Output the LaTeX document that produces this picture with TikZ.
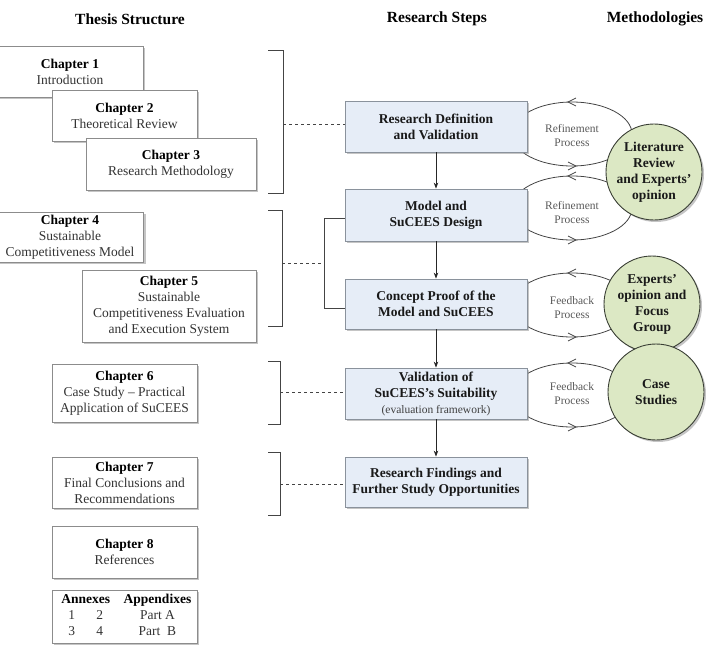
\documentclass[tikz,border=0pt]{standalone}
\usepackage{fontspec}
\setmainfont{Liberation Serif}
\usetikzlibrary{arrows.meta,shadows,calc}
\definecolor{boxborder}{HTML}{8C8C8C}
\definecolor{stepfill}{HTML}{E6EDF7}
\definecolor{stepborder}{HTML}{8A929C}
\definecolor{circfill}{HTML}{DCE8C4}
\definecolor{circborder}{HTML}{3A3F35}
\definecolor{txtgray}{HTML}{333333}
\definecolor{linegray}{HTML}{444444}
\begin{document}
\begin{tikzpicture}[x=1pt,y=-1pt,font=\fontsize{13.5}{16}\selectfont,
  shad/.style={drop shadow={shadow xshift=2pt,shadow yshift=-2pt,fill=black!45,opacity=0.5}},
  chapbox/.style={draw=boxborder,line width=0.8pt,fill=white,align=center,inner sep=0pt,text=txtgray,shad},
  stepbox/.style={draw=stepborder,fill=stepfill,line width=0.8pt,align=center,inner sep=0pt,minimum width=182pt,font=\fontsize{13.5}{16}\selectfont\bfseries,text=black!90,shad},
  method/.style={circle,draw=circborder,line width=0.9pt,fill=circfill,align=center,inner sep=0pt,minimum size=96pt,font=\fontsize{13.5}{16}\selectfont\bfseries,text=black!90,shad},
  loopline/.style={draw=linegray,line width=0.8pt},
  brk/.style={draw=linegray,line width=0.9pt},
  dsh/.style={draw=linegray,line width=0.8pt,dash pattern=on 3pt off 3pt},
  flow/.style={-{Stealth[length=6pt,width=4.5pt]},line width=0.8pt,draw=black!85},
  title/.style={font=\fontsize{15.5}{18}\selectfont\bfseries},
  plabel/.style={font=\fontsize{11.5}{14}\selectfont,text=black!65,align=center},
  chead/.style={}]
\useasboundingbox (0,0) rectangle (706,656);

% titles
\node[title] (t1) at (130,19) {Thesis Structure};
\node[title] (t2) at (437,19) {Research Steps};
\node[title] (t3) at (655,19) {Methodologies};

% chapter boxes
\node[chapbox,minimum width=146pt,minimum height=51pt] (ch1) at (70,71.5) {\textbf{\color{black}Chapter 1}\\Introduction};
\node[chapbox,minimum width=145pt,minimum height=51pt] (ch2) at (124.5,115.5) {\textbf{\color{black}Chapter 2}\\Theoretical Review};
\node[chapbox,minimum width=170pt,minimum height=52pt] (ch3) at (171,164) {\textbf{\color{black}Chapter 3}\\Research Methodology};
\node[chapbox,minimum width=147pt,minimum height=50pt] (ch4) at (70,237) {\textbf{\color{black}Chapter 4}\\Sustainable\\Competitiveness Model};
\node[chapbox,minimum width=174pt,minimum height=72pt] (ch5) at (169,306) {\textbf{\color{black}Chapter 5}\\Sustainable\\Competitiveness Evaluation\\and Execution System};
\node[chapbox,minimum width=145pt,minimum height=58pt] (ch6) at (124.5,393) {\textbf{\color{black}Chapter 6}\\Case Study – Practical\\Application of SuCEES};
\node[chapbox,minimum width=145pt,minimum height=51pt] (ch7) at (124.5,482.5) {\textbf{\color{black}Chapter 7}\\Final Conclusions and\\Recommendations};
\node[chapbox,minimum width=145pt,minimum height=52pt] (ch8) at (124.5,552) {\textbf{\color{black}Chapter 8}\\References};
\node[chapbox,minimum width=145pt,minimum height=53pt] (anx) at (124.5,616.5) {\begin{tabular}{@{}c@{\hspace{10pt}}c@{}}
\textbf{\color{black}Annexes} & \textbf{\color{black}Appendixes}\\
\makebox[28pt]{1}\makebox[28pt]{2} & Part A\\
\makebox[28pt]{3}\makebox[28pt]{4} & Part\enspace B
\end{tabular}};

% loops (behind steps and circles)
\foreach \cy in {134,208,305,395}{
  \draw[loopline] (572,\cy) ellipse [x radius=60pt,y radius=32pt];
}

% research steps
\node[stepbox,minimum height=51pt] (rd) at (436,126.5) {Research Definition\\and Validation};
\node[stepbox,minimum height=52pt] (md) at (436,215) {Model and\\SuCEES Design};
\node[stepbox,minimum height=50pt] (cp) at (436,304) {Concept Proof of the\\Model and SuCEES};
\node[stepbox,minimum height=51pt] (va) at (436,393.5) {Validation of\\SuCEES’s Suitability\\{\fontsize{11.5}{14}\selectfont\mdseries\color{black!75}(evaluation framework)}};
\node[stepbox,minimum height=50pt] (rf) at (436,482) {Research Findings and\\Further Study Opportunities};

% methodologies
\node[method] (c1) at (654,172) {Literature\\Review\\and Experts’\\opinion};
\node[method] (c2) at (652,304) {Experts’\\opinion and\\Focus\\Group};
\node[method] (c3) at (656,392) {Case\\Studies};

% loop labels and chevrons
\node[plabel] (l1) at (572,136) {Refinement\\Process};
\node[plabel] (l2) at (572,213) {Refinement\\Process};
\node[plabel] (l3) at (572,308) {Feedback\\Process};
\node[plabel] (l4) at (572,394) {Feedback\\Process};
\foreach \cy in {134,208,305,395}{
  \draw[loopline] (576,\cy-36) -- (568,\cy-32) -- (576,\cy-28);
  \draw[loopline] (568,\cy+28) -- (576,\cy+32) -- (568,\cy+36);
}

% flow arrows
\draw[flow] (rd) -- (md);
\draw[flow] (md) -- (cp);
\draw[flow] (cp) -- (va);
\draw[flow] (va) -- (rf);

% brackets
\coordinate (b1) at (283,124);
\coordinate (b2) at (282,263);
\coordinate (b3) at (280,392);
\coordinate (b4) at (280,484);
\coordinate (sbx) at (325,263);
\draw[brk] (268,50) -- (283,50) -- (283,193) -- (268,193);
\draw[brk] (268,210) -- (282,210) -- (282,326) -- (268,326);
\draw[brk] (268,361) -- (280,361) -- (280,424) -- (268,424);
\draw[brk] (268,452) -- (280,452) -- (280,515) -- (268,515);
\draw[brk] ($(md.west)+(0,3)$) -- ($(md.west)+(-20,3)$) |- ($(cp.west)+(0,4)$);

% dashed links
\draw[dsh] (b1) -- (b1 -| rd.west);
\draw[dsh] (b2) -- (sbx);
\draw[dsh] (b3) -- (b3 -| va.west);
\draw[dsh] (b4) -- (b4 -| rf.west);
\end{tikzpicture}
\end{document}
